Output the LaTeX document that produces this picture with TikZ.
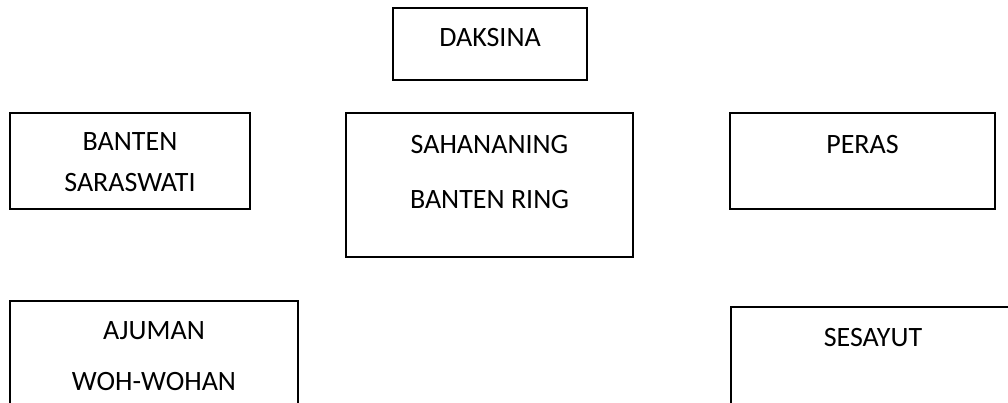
\documentclass[tikz,border=0pt]{standalone}
\usepackage{fontspec}
\setmainfont{Carlito}
\usetikzlibrary{positioning}

\begin{document}
\begin{tikzpicture}[x=1pt,y=-1pt,
    box/.style={draw, line width=1.8pt, anchor=north west, inner sep=0pt, outer sep=0pt},
    lbl/.style={align=center, inner sep=0pt, outer sep=0pt, font=\fontsize{28}{34}\selectfont}]
    \clip (0,0) rectangle (1008,402);

    % Daksina
    \node[box, minimum width=194pt, minimum height=72pt] (daksina) at (393,8) {};
    \node[lbl, below=20pt of daksina.north] (daksinatext) {DAKSINA};

    % Banten Saraswati
    \node[box, minimum width=240pt, minimum height=96pt] (saraswati) at (10,113) {};
    \node[lbl, below=20pt of saraswati.north] (saraswatitext) {BANTEN\\[7pt]SARASWATI};

    % Sahananing Banten Ring
    \node[box, minimum width=287pt, minimum height=144pt] (sahananing) at (346,113) {};
    \node[lbl, below=22pt of sahananing.north] (sahananingtext) {SAHANANING\\[21pt]BANTEN RING};

    % Peras
    \node[box, minimum width=265pt, minimum height=96pt] (peras) at (730,113) {};
    \node[lbl, below=22pt of peras.north] (perastext) {PERAS};

    % Ajuman Woh-wohan
    \node[box, minimum width=288pt, minimum height=140pt] (ajuman) at (10,301) {};
    \node[lbl, below=21pt of ajuman.north] (ajumantext) {AJUMAN\\[17pt]WOH-WOHAN};

    % Sesayut
    \node[box, minimum width=284pt, minimum height=140pt] (sesayut) at (731,307) {};
    \node[lbl, below=21pt of sesayut.north] (sesayuttext) {SESAYUT};
\end{tikzpicture}
\end{document}
